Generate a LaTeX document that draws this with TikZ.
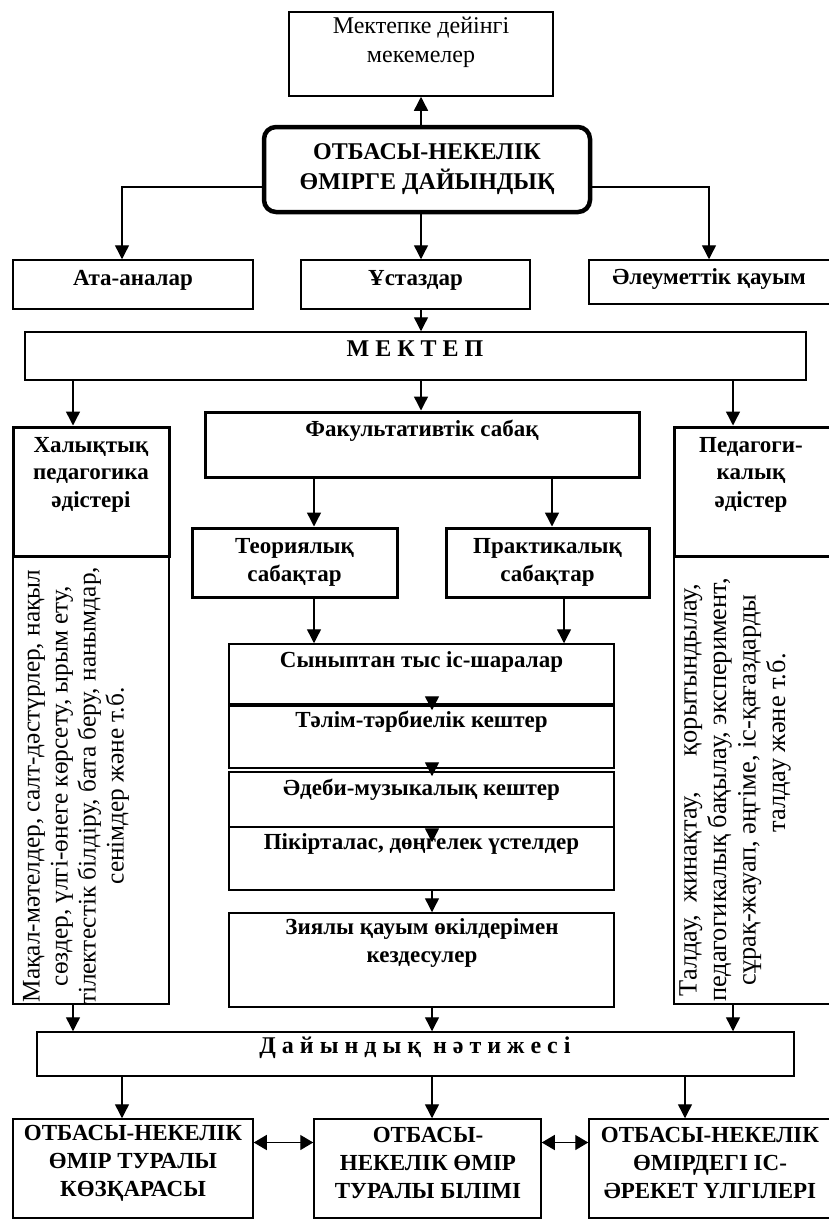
\documentclass[tikz,border=0pt]{standalone}
\usepackage{fontspec}
\setmainfont{Liberation Serif}
\usetikzlibrary{arrows.meta}
\usetikzlibrary{positioning}
\usetikzlibrary{calc}
\tikzset {
  % plain frame
  frame/.style = {
    draw = black,
    line width = 1.5pt,
    rectangle,
    inner sep = 0
  },
  % heavy frame
  hframe/.style = {
    frame,
    line width = 3pt
  },
  % centre frame
  core/.style = {
    frame,
    line width = 4.5pt,
    rounded corners = 12pt
  },
  % bold text in frames
  btxt/.style = {
    font = \fontsize{23}{27.5}\selectfont\bfseries,
    align = center,
    inner sep = 0
  },
  % plain text
  ntxt/.style = {
    font = \fontsize{24}{27}\selectfont,
    align = center,
    inner sep = 0
  }
}
\tikzset {
  % connector with one tip
  arr/.style = {
    draw = black,
    line width = 1.4pt,
    -{Triangle[length = 14pt, width = 14pt]}
  },
  % connector with two tips
  darr/.style = {
    draw = black,
    line width = 1.4pt,
    {Triangle[length = 13pt, width = 15pt]}-{Triangle[length = 13pt, width = 15pt]}
  }
}

\begin{document}
\begin{tikzpicture}[x = 1pt, y = -1pt]
    \useasboundingbox (0,0) rectangle (828,1221);

    % columns of the connectors
    \coordinate (xl) at (73,0);
    \coordinate (xata) at (122,0);
    \coordinate (xteo) at (314,0);
    \coordinate (xmid) at (421,0);
    \coordinate (xsub) at (432,0);
    \coordinate (xpra) at (552,0);
    \coordinate (xpra2) at (564,0);
    \coordinate (xres) at (685,0);
    \coordinate (xale) at (709,0);
    \coordinate (xr) at (733,0);

    \node[frame, minimum width = 264pt, minimum height = 84pt] (pre) at (421,54) {};
    \node[ntxt, font = \fontsize{24}{29}\selectfont] (pretxt) at (421,42.5) {Мектепке дейінгі\\мекемелер};

    \node[core, minimum width = 326pt, minimum height = 85pt, btxt, font = \fontsize{24}{30}\selectfont\bfseries] (fam) at (427,169.5) {ОТБАСЫ-НЕКЕЛІК\\ӨМІРГЕ ДАЙЫНДЫҚ};

    \node[frame, minimum width = 240pt, minimum height = 49pt] (ata) at (133,284.5) {};
    \node[btxt] (atatxt) at (133,280) {Ата-аналар};
    \node[frame, minimum width = 229pt, minimum height = 49pt] (ust) at (415.5,284.5) {};
    \node[btxt] (usttxt) at (415.5,280) {Ұстаздар};
    \node[frame, minimum width = 243pt, minimum height = 44pt] (ale) at (710.5,282) {};
    \node[btxt] (aletxt) at (709,279) {Әлеуметтік қауым};

    \node[frame, minimum width = 781pt, minimum height = 48pt] (mek) at (415.5,356) {};
    \node[btxt, font = \fontsize{24}{28}\selectfont\bfseries] (mektxt) at (415,349) {М Е К Т Е П};

    \node[hframe, minimum width = 156pt, minimum height = 129pt] (hal) at (91,491.5) {};
    \node[btxt] (haltxt) at (91,474.5) {Халықтық\\педагогика\\әдістері};
    \node[frame, minimum width = 156pt, minimum height = 448pt] (halx) at (91,780) {};
    \node[ntxt, rotate = 90, font = \fontsize{25.3}{28}\selectfont] (halxtxt) at (76,786) {Мақал-мәтелдер, салт-дәстүрлер, нақыл\\сөздер, үлгі-өнеге көрсету, ырым ету,\\тілектестік білдіру, бата беру, нанымдар,\\сенімдер және т.б.};

    \node[hframe, minimum width = 434pt, minimum height = 65pt] (fak) at (422,444.5) {};
    \node[btxt] (faktxt) at (422,431) {Факультативтік сабақ};

    \node[hframe, minimum width = 158pt, minimum height = 129pt] (ped) at (753,491.5) {};
    \node[btxt] (pedtxt) at (751,474.5) {Педагоги-\\калық\\әдістер};
    \node[frame, minimum width = 158pt, minimum height = 448pt] (pedx) at (753,780) {};
    \node[ntxt, rotate = 90, font = \fontsize{26.4}{29.5}\selectfont] (pedxtxt) at (735,790) {Талдау,\hspace{12pt}жинақтау,\hspace{36pt}қорытындылау,\\педагогикалық бақылау, эксперимент,\\сұрақ-жауап, әңгіме, іс-қағаздарды\\\hspace*{94pt}талдау және т.б.};

    \node[hframe, minimum width = 205pt, minimum height = 69pt, btxt] (teo) at (294.5,562.5) {Теориялық\\сабақтар};
    \node[hframe, minimum width = 203pt, minimum height = 69pt, btxt] (pra) at (547.5,562.5) {Практикалық\\сабақтар};

    \node[frame, minimum width = 385pt, minimum height = 60pt] (syn) at (421.5,674) {};
    \node[btxt] (syntxt) at (421.5,662) {Сыныптан тыс іс-шаралар};
    \node[frame, minimum width = 385pt, minimum height = 62pt] (tal) at (421.5,737) {};
    \node[btxt] (taltxt) at (421.5,722) {Тәлім-тәрбиелік кештер};
    \node[frame, minimum width = 385pt, minimum height = 55pt] (ade) at (421.5,799.5) {};
    \node[btxt] (adetxt) at (421.5,790) {Әдеби-музыкалық кештер};
    \node[frame, minimum width = 385pt, minimum height = 63pt] (pik) at (421.5,858.5) {};
    \node[btxt] (piktxt) at (421.5,844) {Пікірталас, дөңгелек үстелдер};
    \node[frame, minimum width = 385pt, minimum height = 94pt] (zia) at (421.5,960) {};
    \node[btxt] (ziatxt) at (422,943) {Зиялы қауым өкілдерімен\\кездесулер};

    \node[frame, minimum width = 757pt, minimum height = 44pt] (day) at (415.5,1054) {};
    \node[btxt, font = \fontsize{24}{28}\selectfont\bfseries] (daytxt) at (415,1048) {Д а й ы н д ы қ \ н ә т и ж е с і};

    \node[frame, minimum width = 240pt, minimum height = 99pt] (res1) at (133,1168.5) {};
    \node[btxt, font = \fontsize{23}{28}\selectfont\bfseries] (res1txt) at (133,1163) {ОТБАСЫ-НЕКЕЛІК\\ӨМІР ТУРАЛЫ\\КӨЗҚАРАСЫ};
    \node[frame, minimum width = 227pt, minimum height = 99pt] (res2) at (427.5,1168.5) {};
    \node[btxt, font = \fontsize{23}{28}\selectfont\bfseries] (res2txt) at (428,1163) {ОТБАСЫ-\\НЕКЕЛІК ӨМІР\\ТУРАЛЫ БІЛІМІ};
    \node[frame, minimum width = 243pt, minimum height = 99pt] (res3) at (710.5,1168.5) {};
    \node[btxt, font = \fontsize{23}{28}\selectfont\bfseries] (res3txt) at (710,1163) {ОТБАСЫ-НЕКЕЛІК\\ӨМІРДЕГІ ІС-\\ӘРЕКЕТ ҮЛГІЛЕРІ};

    % top part
    \draw[arr] (fam.north -| xmid) -- (pre.south -| xmid);
    \draw[arr] ([yshift = -17.5pt]fam.west) -| (ata.north -| xata);
    \draw[arr] ([yshift = -17.5pt]fam.east) -| (ale.north -| xale);
    \draw[arr] (fam.south -| xmid) -- (ust.north -| xmid);
    \draw[arr] (ust.south -| xmid) -- (mek.north -| xmid);

    % school
    \draw[arr] (mek.south -| xl) -- (hal.north -| xl);
    \draw[arr] (mek.south -| xmid) -- (fak.north -| xmid);
    \draw[arr] (mek.south -| xr) -- (ped.north -| xr);
    \draw[arr] (fak.south -| xteo) -- (teo.north -| xteo);
    \draw[arr] (fak.south -| xpra) -- (pra.north -| xpra);
    \draw[arr] (teo.south -| xteo) -- (syn.north -| xteo);
    \draw[arr] (pra.south -| xpra2) -- (syn.north -| xpra2);

    % events
    \draw[arr] ($(syn.south -| xsub)+(0,-7)$) -- ($(tal.north -| xsub)+(0,5)$);
    \draw[arr] ($(tal.south -| xsub)+(0,-5)$) -- ($(ade.north -| xsub)+(0,5)$);
    \draw[arr] ($(ade.south -| xsub)+(0,2)$) -- ($(pik.north -| xsub)+(0,16)$);
    \draw[arr] (pik.south -| xsub) -- (zia.north -| xsub);

    % result
    \draw[arr] (halx.south -| xl) -- (day.north -| xl);
    \draw[arr] (zia.south -| xsub) -- (day.north -| xsub);
    \draw[arr] (pedx.south -| xr) -- (day.north -| xr);
    \draw[arr] (day.south -| xata) -- (res1.north -| xata);
    \draw[arr] (day.south -| xsub) -- (res2.north -| xsub);
    \draw[arr] (day.south -| xres) -- (res3.north -| xres);
    \draw[darr] ([yshift = 26pt]res1.east) -- ([yshift = 26pt]res2.west);
    \draw[darr] ([yshift = 26pt]res2.east) -- ([yshift = 26pt]res3.west);
  \end{tikzpicture}
\end{document}
